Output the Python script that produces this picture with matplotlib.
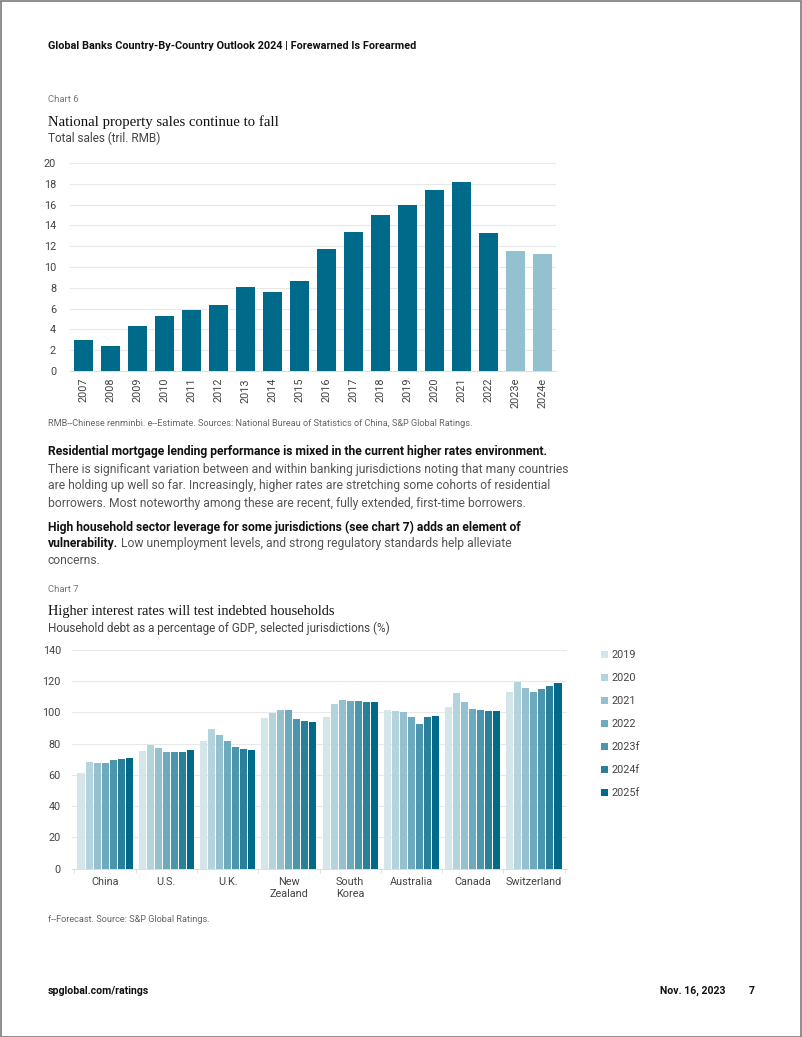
import numpy as np
import matplotlib
matplotlib.use("Agg")
import matplotlib.pyplot as plt
from matplotlib.patches import Rectangle, Patch

# chart 6 data
years6 = ["2007", "2008", "2009", "2010", "2011", "2012", "2013", "2014", "2015",
          "2016", "2017", "2018", "2019", "2020", "2021", "2022", "2023e", "2024e"]
sales6 = [2.95, 2.44, 4.36, 5.26, 5.87, 6.35, 8.04, 7.56, 8.65,
          11.73, 13.37, 14.97, 15.96, 17.37, 18.14, 13.24, 11.57, 11.25]
estimate6 = [False] * 16 + [True, True]

# chart 7 data
countries7 = ["China", "U.S.", "U.K.", "New\nZealand", "South\nKorea",
              "Australia", "Canada", "Switzerland"]
years7 = ["2019", "2020", "2021", "2022", "2023f", "2024f", "2025f"]
debt_2019 = [61.5, 75.3, 81.9, 96.5, 97.3, 101.8, 103.3, 113.1]
debt_2020 = [68.3, 79.2, 89.2, 99.4, 105.4, 100.9, 112.7, 119.5]
debt_2021 = [67.5, 77.0, 85.8, 101.6, 108.0, 100.3, 106.7, 115.4]
debt_2022 = [67.5, 74.7, 81.5, 101.6, 107.6, 97.1, 102.4, 112.9]
debt_2023f = [69.6, 74.9, 77.9, 96.0, 107.1, 92.6, 101.6, 115.2]
debt_2024f = [70.4, 74.9, 76.8, 94.5, 106.5, 97.1, 101.2, 117.2]
debt_2025f = [70.6, 75.8, 75.8, 93.7, 106.5, 98.0, 101.2, 118.6]
debt7 = [debt_2019, debt_2020, debt_2021, debt_2022, debt_2023f, debt_2024f, debt_2025f]

W, H = 802, 1037
DARK = "#006a8a"
LIGHT = "#93c1cf"
colors7 = ["#d5e6eb", "#b4d4dd", "#95c1cf", "#6eaabd", "#4c96ad", "#2a8099", "#006a88"]
GRID = "#e8e8e8"
TXT = "#555555"
SANS = "Roboto"
SERIF = "Liberation Serif"

plt.rcParams["font.family"] = SANS

fig = plt.figure(figsize=(W / 100, H / 100), dpi=100)
fig.patch.set_facecolor("white")


def fy(y):
    return 1 - y / H


def fx(x):
    return x / W


def put(x, y, s, **kw):
    kw.setdefault("va", "center")
    return fig.text(fx(x), fy(y), s, **kw)


# page border
fig.add_artist(Rectangle((0.5 / W, 0.5 / H), 1 - 1.5 / W, 1 - 1.5 / H, transform=fig.transFigure,
                         fill=False, edgecolor="#7a7a7a", linewidth=1.2))

put(48, 46, "Global Banks Country-By-Country Outlook 2024 | Forewarned Is Forearmed",
    fontsize=7.85, fontweight="bold", color="#111111")

# ---- chart 6 ----
put(48, 99, "Chart 6", fontsize=6.8, color="#777777")
put(48, 122, "National property sales continue to fall", fontsize=10.6, family=SERIF, color="#111111")
put(48, 138, "Total sales (tril. RMB)", fontsize=8.5, color="#444444")

ax6 = fig.add_axes([fx(70), fy(371), fx(556) - fx(70), (371 - 163) / H])
x6 = np.arange(len(years6))
cols6 = [LIGHT if e else DARK for e in estimate6]
ax6.bar(x6, sales6, width=0.68, color=cols6, zorder=3)
ax6.set_xlim(-0.5, len(years6) - 0.5)
ax6.set_ylim(0, 20)
ax6.set_yticks(np.arange(0, 21, 2))
ax6.yaxis.grid(True, color=GRID, linewidth=0.8, zorder=0)
ax6.set_xticks(x6)
ax6.set_xticklabels(years6, rotation=90)
for s in ["top", "right", "left"]:
    ax6.spines[s].set_visible(False)
ax6.spines["bottom"].set_color("#dddddd")
ax6.tick_params(axis="both", length=0, labelsize=7.8, labelcolor="#444444")
ax6.tick_params(axis="y", pad=10)
ax6.tick_params(axis="x", pad=5)

put(48, 424, "RMB--Chinese renminbi. e--Estimate. Sources: National Bureau of Statistics of China, S&P Global Ratings.",
    fontsize=6.6, color="#666666")

# ---- body text ----
fig.canvas.draw()
renderer = fig.canvas.get_renderer()
BODY = 8.7
put(48, 452, "Residential mortgage lending performance is mixed in the current higher rates environment.",
    fontsize=BODY, fontweight="bold", color="#111111")
body1 = ["There is significant variation between and within banking jurisdictions noting that many countries",
         "are holding up well so far. Increasingly, higher rates are stretching some cohorts of residential",
         "borrowers. Most noteworthy among these are recent, fully extended, first-time borrowers."]
for i, line in enumerate(body1):
    put(48, 469 + i * 17, line, fontsize=BODY, color=TXT)
put(48, 527, "High household sector leverage for some jurisdictions (see chart 7) adds an element of",
    fontsize=BODY, fontweight="bold", color="#111111")
t = put(48, 544, "vulnerability.", fontsize=BODY, fontweight="bold", color="#111111")
bb = t.get_window_extent(renderer=renderer)
put(bb.x1 + 2.5, 544, "Low unemployment levels, and strong regulatory standards help alleviate",
    fontsize=BODY, color=TXT)
put(48, 561, "concerns.", fontsize=BODY, color=TXT)

# ---- chart 7 ----
put(48, 590, "Chart 7", fontsize=6.8, color="#777777")
put(48, 612, "Higher interest rates will test indebted households", fontsize=10.4, family=SERIF, color="#111111")
put(48, 628, "Household debt as a percentage of GDP, selected jurisdictions (%)", fontsize=8.5, color="#444444")

ax7 = fig.add_axes([fx(72), fy(868.7), fx(567) - fx(72), 218.7 / H])
n = len(years7)
slot = 0.131
bw = 0.115
x7 = np.arange(len(countries7))
for k in range(n):
    ax7.bar(x7 + (k - (n - 1) / 2) * slot, debt7[k], width=bw, color=colors7[k],
            label=years7[k], zorder=3)
ax7.set_xlim(-0.54, len(countries7) - 0.46)
ax7.set_ylim(0, 140)
ax7.set_yticks(np.arange(0, 141, 20))
ax7.yaxis.grid(True, color=GRID, linewidth=0.8, zorder=0)
ax7.set_xticks(x7)
ax7.set_xticklabels(countries7)
ax7.set_xticks(np.arange(len(countries7) + 1) - 0.5, minor=True)
for s in ["top", "right", "left"]:
    ax7.spines[s].set_visible(False)
ax7.spines["bottom"].set_color("#dddddd")
ax7.tick_params(axis="both", which="major", length=0, labelsize=7.8, labelcolor="#444444")
ax7.tick_params(axis="x", which="minor", length=3, color="#dddddd")
ax7.tick_params(axis="y", pad=8)
ax7.tick_params(axis="x", pad=6)

handles = [Patch(facecolor=c, edgecolor="none") for c in colors7]
fig.legend(handles, years7, loc="upper left", bbox_to_anchor=(fx(601), fy(650)),
           frameon=False, fontsize=7.8, labelcolor="#444444", handlelength=0.65,
           handleheight=0.65, handletextpad=0.3, labelspacing=1.2, borderpad=0, borderaxespad=0)

put(48, 920, "f--Forecast. Source: S&P Global Ratings.", fontsize=6.6, color="#666666")

# footer
put(48, 991, "spglobal.com/ratings", fontsize=7.6, fontweight="bold", color="#111111")
put(726, 991, "Nov. 16, 2023", fontsize=7.6, fontweight="bold", color="#111111", ha="right")
put(752, 991, "7", fontsize=7.6, fontweight="bold", color="#111111", ha="center")

fig.savefig("out.png", dpi=100, facecolor="white")
